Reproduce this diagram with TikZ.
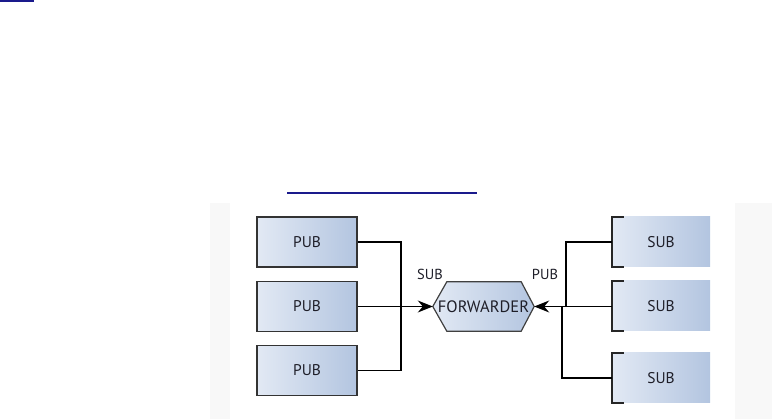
\documentclass[tikz,border=0pt]{standalone}
\usepackage{fontspec}
\setmainfont{PT Sans}
\usetikzlibrary{arrows.meta,positioning}
\definecolor{navy}{HTML}{1A1A8C}
\definecolor{boxl}{HTML}{E2E9F4}
\definecolor{boxr}{HTML}{B3C5E0}
\definecolor{panel}{HTML}{F8F8F8}
\definecolor{ink}{HTML}{1E1E28}
\tikzset{
  pubbox/.style={rectangle, draw=black!80, line width=1.4pt, left color=boxl, right color=boxr,
    minimum width=100pt, minimum height=50pt, inner sep=0pt, text=ink, font=\fontsize{15.5}{18}\selectfont},
  subbox/.style={rectangle, left color=boxl, right color=boxr,
    minimum width=98pt, minimum height=50pt, inner sep=0pt, text=ink, font=\fontsize{15.5}{18}\selectfont},
  conn/.style={draw=black, line width=1.3pt},
  arr/.style={conn, -{Stealth[length=15pt,width=12pt,inset=5pt]}},
  lbl/.style={font=\fontsize{14.5}{16}\selectfont, inner sep=0pt, text=ink},
  bracket/.style={draw=black!85, line width=2.4pt}
}
\begin{document}
\begin{tikzpicture}[x=1pt,y=-1pt]
\useasboundingbox (0,0) rectangle (772,419);
% faint panel
\fill[panel] (210,203) rectangle (230,419);
\fill[panel] (735,203) rectangle (772,419);
% decorative navy lines
\draw[navy, line width=2pt] (0,1) -- (34,1);
\draw[navy, line width=1.4pt] (287,193) -- (477,193);
% publishers
\node[pubbox] (p1) at (307,242) {PUB};
\node[pubbox] (p2) at (307,306.5) {PUB};
\node[pubbox] (p3) at (307,370.5) {PUB};
% subscribers
\node[subbox] (s1) at (661,242) {SUB};
\node[subbox] (s2) at (661,306) {SUB};
\node[subbox] (s3) at (661,378) {SUB};
\foreach \s in {s1,s2,s3}{
  \draw[bracket] ([xshift=12pt]\s.north west) -- (\s.north west) -- (\s.south west) -- ([xshift=12pt]\s.south west);
}
% forwarder
\node[minimum width=101pt, minimum height=49pt, inner sep=0pt] (fw) at (483.5,306.5) {};
\draw[draw=black!75, line width=1.2pt, left color=boxl, right color=boxr]
  (fw.west) -- ([xshift=14pt]fw.north west) -- ([xshift=-13pt]fw.north east) -- (fw.east)
  -- ([xshift=-13pt]fw.south east) -- ([xshift=14pt]fw.south west) -- cycle;
\node[font=\fontsize{16.5}{18}\selectfont, text=ink] (fwt) at (fw.center) {FORWARDER};
% labels
\node[lbl] (lsub) at (430,274) {SUB};
\node[lbl] (lpub) at (545,274) {PUB};
% left connectors
\coordinate (jl) at (401,306.5);
\draw[conn] (p1.east) -| (jl) |- (p3.east);
\draw[arr] (p2.east) -- (fw.west);
% right connectors
\coordinate (jr1) at (566,306.5);
\coordinate (jr2) at (562,306.5);
\draw[conn] (s1.west) -| (jr1);
\draw[conn] (s3.west) -| (jr2);
\draw[arr] (s2.west |- fw.east) -- (fw.east);
\end{tikzpicture}
\end{document}
